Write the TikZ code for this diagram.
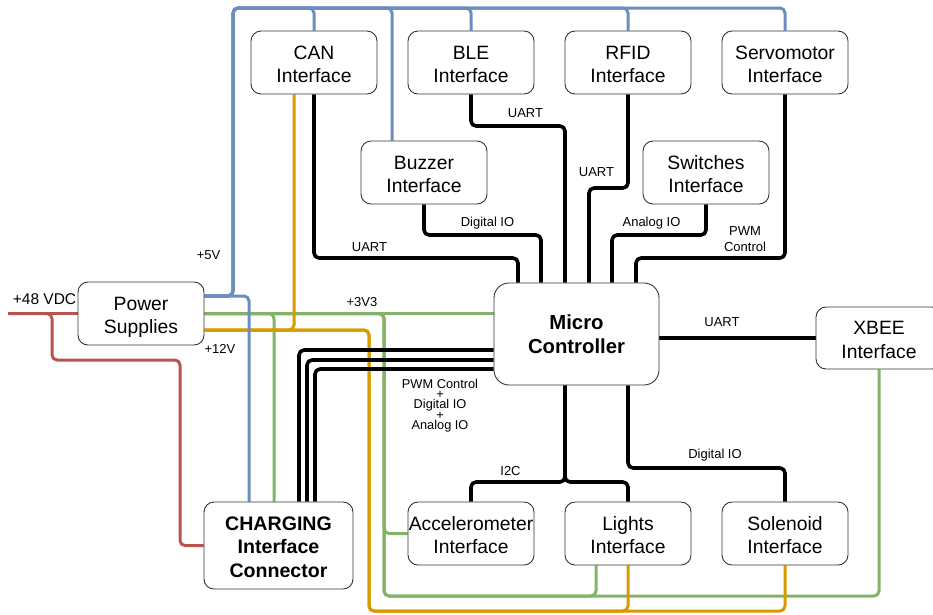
\documentclass[tikz,border=0pt]{standalone}
\usepackage{fontspec}
\setmainfont{Liberation Sans}
\usetikzlibrary{calc,backgrounds}
\definecolor{pwblue}{HTML}{6C8EBF}
\definecolor{pwgreen}{HTML}{82B366}
\definecolor{pworange}{HTML}{D79B00}
\definecolor{pwred}{HTML}{B85450}
\definecolor{boxline}{HTML}{333333}
% block captions with fixed line boxes, independent of ascenders/descenders
\newcommand{\twoline}[2]{\rule{0pt}{17.5pt}\smash{#1}\\\smash{#2}\rule[-1pt]{0pt}{1pt}}
\newcommand{\threeline}[3]{\rule{0pt}{17pt}\smash{#1}\\\smash{#2}\\\smash{#3}\rule[-1pt]{0pt}{1pt}}
\tikzset{
  block/.style={draw=boxline, line width=0.9pt, rounded corners=10pt, fill=white,
    align=center, inner sep=0pt, minimum width=126pt, minimum height=63pt,
    font=\fontsize{19.3}{23.5}\selectfont},
  bigblock/.style={block, font=\bfseries\fontsize{19.6}{23.5}\selectfont},
  wire/.style={line width=3pt, rounded corners=5pt, line join=round},
  v5/.style={wire, draw=pwblue},
  v12/.style={wire, draw=pworange},
  v33/.style={wire, draw=pwgreen},
  v48/.style={wire, draw=pwred},
  sig/.style={wire, line width=3.6pt, draw=black},
  lbl/.style={font=\fontsize{13}{15}\selectfont, inner sep=0pt},
}
\begin{document}
\begin{tikzpicture}[x=1pt, y=-1pt]
\useasboundingbox (0,0) rectangle (933,614);

% blocks
\node[block] (can)   at (314,62.5)  {\twoline{CAN}{Interface}};
\node[block] (ble)   at (471,62.5)  {\twoline{BLE}{Interface}};
\node[block] (rfid)  at (628,62.5)  {\twoline{RFID}{Interface}};
\node[block] (servo) at (785,62.5)  {\twoline{Servomotor}{Interface}};
\node[block] (buz)   at (424,172.5) {\twoline{Buzzer}{Interface}};
\node[block] (sw)    at (706,172.5) {\twoline{Switches}{Interface}};
\node[block] (ps)    at (141,313.5) {\twoline{Power}{Supplies}};
\node[bigblock, rounded corners=15pt, minimum width=165pt, minimum height=102pt,
      font=\bfseries\fontsize{20.3}{24.3}\selectfont] (mc) at (576.5,334) {Micro\\Controller};
\node[block, minimum height=62pt] (xb) at (879,338) {\twoline{XBEE}{Interface}};
\node[bigblock, minimum width=149pt, minimum height=87pt] (chg) at (278.5,545.5)
      {\threeline{CHARGING}{Interface}{Connector}};
\node[block] (acc)   at (471,533.5) {\twoline{Accelerometer}{Interface}};
\node[block] (lig)   at (628,533.5) {\twoline{Lights}{Interface}};
\node[block] (sol)   at (785,533.5) {\twoline{Solenoid}{Interface}};

\coordinate (in48) at (8,313.5);

\begin{scope}[on background layer]
% +3V3 rail
\draw[v33] (ps.east) -- (mc.west |- ps.east);
\draw[v33] (ps.east) -- (274,313.5) -- (274,0 |- chg.north);
\draw[v33] (ps.east) -- (384,313.5) |- (acc.west);
\draw[v33] (ps.east) -- (384,313.5) -- (384,596) -| (596,0 |- lig.south);
\draw[v33] (ps.east) -- (384,313.5) -- (384,596) -| (xb.south);
% +12V rail
\draw[v12] (ps.east |- 0,330) -- (294,330) -- (294,0 |- can.south);
\draw[v12] (ps.east |- 0,330) -- (369,330) -- (369,611) -| (lig.south);
\draw[v12] (ps.east |- 0,330) -- (369,330) -- (369,611) -| (sol.south);
% +5V rail
\draw[v5] (ps.east |- 0,296) -- (249,296) -- (249,0 |- chg.north);
\draw[v5] (ps.east |- 0,296) -- (233,296) -- (233,8) -| (can.north);
\draw[v5] (ps.east |- 0,296) -- (233,296) -- (233,8) -| (392,0 |- buz.north);
\draw[v5] (ps.east |- 0,296) -- (233,296) -- (233,8) -| (ble.north);
\draw[v5] (ps.east |- 0,296) -- (233,296) -- (233,8) -| (rfid.north);
\draw[v5] (ps.east |- 0,296) -- (233,296) -- (233,8) -| (servo.north);
% +48 VDC input
\draw[v48] (in48) -- (ps.west);
\draw[v48] (in48) -- (52,313.5) -- (52,360) -- (180,360) |- (chg.west);
% signal buses
\draw[sig] (can.south) -- (314,258) -| (518,0 |- mc.north);
\draw[sig] (buz.south) -- (424,235) -| (541,0 |- mc.north);
\draw[sig] (ble.south) -- (471,126) -| (565,0 |- mc.north);
\draw[sig] (rfid.south) -- (628,188) -| (589,0 |- mc.north);
\draw[sig] (sw.south) -- (706,235) -| (612,0 |- mc.north);
\draw[sig] (servo.south) -- (785,258) -| (636,0 |- mc.north);
\draw[sig] (mc.east |- xb.west) -- (xb.west);
\draw[sig] (565,0 |- mc.south) -- (565,482) -| (acc.north);
\draw[sig] (565,0 |- mc.south) -- (565,482) -| (lig.north);
\draw[sig] (628,0 |- mc.south) -- (628,468) -| (sol.north);
\draw[sig] (mc.west |- 0,350) -| (299,0 |- chg.north);
\draw[sig] (mc.west |- 0,360) -| (307,0 |- chg.north);
\draw[sig] (mc.west |- 0,369) -| (315,0 |- chg.north);
\end{scope}

% rail labels
\node[lbl, font=\fontsize{15.5}{17}\selectfont] (t48) at (44.5,299) {+48 VDC};
\node[lbl] (t5)  at (208.5,255) {+5V};
\node[lbl] (t12) at (220,349) {+12V};
\node[lbl] (t33) at (362,302) {+3V3};
% bus labels
\node[lbl] (tcan) at (369.5,247) {UART};
\node[lbl] (tbuz) at (487.5,223) {Digital IO};
\node[lbl] (tble) at (525.5,113) {UART};
\node[lbl] (trf)  at (596.5,172) {UART};
\node[lbl] (tsw)  at (651.5,223) {Analog IO};
\node[lbl, align=center, font=\fontsize{13}{16}\selectfont] (tsv) at (745,239) {PWM\\Control};
\node[lbl] (txb)  at (722,322) {UART};
\node[lbl] (ti2c) at (510.5,471) {I2C};
\node[lbl] (tsol) at (715,455) {Digital IO};
\node[lbl, align=center, font=\fontsize{12.8}{10.4}\selectfont] (tchg) at (440,405.5)
  {PWM Control\\+\\Digital IO\\+\\Analog IO};
\end{tikzpicture}
\end{document}
